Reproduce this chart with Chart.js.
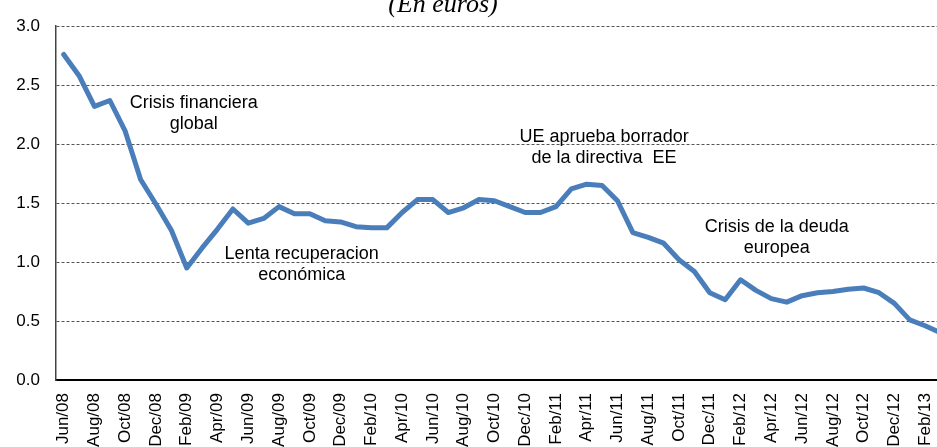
<!DOCTYPE html>
<html>
<head>
<meta charset="utf-8">
<script src="https://cdn.jsdelivr.net/npm/chart.js@4.4.1/dist/chart.umd.min.js"></script>
<style>
  body { margin: 0; background: #fff; }
  #wrap { position: relative; width: 937px; height: 447px; overflow: hidden; }
  #priceChart { position: absolute; left: 0; top: 0; }
</style>
</head>
<body>
<div id="wrap">
  <canvas id="priceChart" width="974" height="480"></canvas>
</div>
<script>
// monthly categories, Jun/08 .. Mar/13
const months = [
  'Jun/08', 'Jul/08', 'Aug/08', 'Sep/08', 'Oct/08', 'Nov/08', 'Dec/08',
  'Jan/09', 'Feb/09', 'Mar/09', 'Apr/09', 'May/09', 'Jun/09', 'Jul/09', 'Aug/09', 'Sep/09', 'Oct/09', 'Nov/09', 'Dec/09',
  'Jan/10', 'Feb/10', 'Mar/10', 'Apr/10', 'May/10', 'Jun/10', 'Jul/10', 'Aug/10', 'Sep/10', 'Oct/10', 'Nov/10', 'Dec/10',
  'Jan/11', 'Feb/11', 'Mar/11', 'Apr/11', 'May/11', 'Jun/11', 'Jul/11', 'Aug/11', 'Sep/11', 'Oct/11', 'Nov/11', 'Dec/11',
  'Jan/12', 'Feb/12', 'Mar/12', 'Apr/12', 'May/12', 'Jun/12', 'Jul/12', 'Aug/12', 'Sep/12', 'Oct/12', 'Nov/12', 'Dec/12',
  'Jan/13', 'Feb/13', 'Mar/13'
];

// price in euros
const prices = [
  2.76, 2.58, 2.32, 2.37, 2.11, 1.70, 1.49,
  1.27, 0.95, 1.12, 1.28, 1.45, 1.33, 1.37, 1.47, 1.41, 1.41, 1.35, 1.34,
  1.30, 1.29, 1.29, 1.42, 1.53, 1.53, 1.42, 1.46, 1.53, 1.52, 1.47, 1.42,
  1.42, 1.47, 1.62, 1.66, 1.65, 1.52, 1.25, 1.21, 1.16, 1.02, 0.92, 0.74,
  0.68, 0.85, 0.76, 0.69, 0.66, 0.715, 0.74, 0.75, 0.77, 0.78, 0.74, 0.65,
  0.51, 0.46, 0.40
];

const yTicks = [0, 0.5, 1.0, 1.5, 2.0, 2.5, 3.0];

const subtitle = '(En euros)';

const notes = [
  ['Crisis financiera', 'global'],
  ['Lenta recuperacion', 'económica'],
  ['UE aprueba borrador', 'de la directiva  EE'],
  ['Crisis de la deuda', 'europea']
];

// where each note sits: category index (center) and value (first baseline)
const noteAnchors = [
  { i: 8.46, v: 2.304 },
  { i: 15.47, v: 1.027 },
  { i: 35.13, v: 2.02 },
  { i: 46.35, v: 1.252 }
];

const sansFont = 'Liberation Sans, Arial, sans-serif';

const notesPlugin = {
  id: 'notes',
  afterDraw(chart) {
    const ctx = chart.ctx;
    const xs = chart.scales.x;
    const ys = chart.scales.y;
    ctx.save();
    ctx.fillStyle = '#000';
    ctx.textAlign = 'center';
    ctx.textBaseline = 'alphabetic';
    ctx.font = '18px ' + sansFont;
    notes.forEach(function(lines, k) {
      const cx = xs.getPixelForValue(noteAnchors[k].i);
      const by = ys.getPixelForValue(noteAnchors[k].v);
      lines.forEach(function(txt, j) {
        ctx.fillText(txt, cx, by + j * 21);
      });
    });
    // subtitle, partly cut off at the top like the source
    ctx.font = 'italic 26px Liberation Serif, Times New Roman, serif';
    ctx.fillText(subtitle, 443, 11.5);
    ctx.restore();
  }
};

const config = {
  type: 'line',
  data: {
    labels: months,
    datasets: [{
      label: 'Precio',
      data: prices,
      borderColor: '#4a7ebb',
      backgroundColor: '#4a7ebb',
      borderWidth: 5,
      pointRadius: 0,
      tension: 0,
      borderJoinStyle: 'round',
      borderCapStyle: 'round',
      fill: false
    }]
  },
  options: {
    responsive: false,
    animation: false,
    layout: { padding: { top: 21, right: 10, bottom: 0, left: 0 } },
    plugins: {
      legend: { display: false },
      tooltip: { enabled: false },
      title: { display: false }
    },
    scales: {
      x: {
        offset: true,
        grid: { display: false, drawTicks: false },
        border: { display: true, color: '#000', width: 2 },
        ticks: {
          autoSkip: false,
          maxRotation: 90,
          minRotation: 90,
          padding: 13,
          color: '#000',
          font: { family: sansFont, size: 17 },
          callback: function(value, index) {
            return index % 2 === 0 ? months[index] : '';
          }
        },
        afterFit: function(scale) { scale.height = 100; }
      },
      y: {
        min: 0,
        max: 3,
        afterBuildTicks: function(scale) {
          scale.ticks = yTicks.map(function(v) { return { value: v }; });
        },
        grid: { color: '#555', lineWidth: 1, drawTicks: false },
        border: { display: true, color: '#444', width: 1.5, dash: [3, 2] },
        ticks: {
          padding: 16,
          color: '#000',
          font: { family: sansFont, size: 17 },
          callback: function(value) { return Number(value).toFixed(1); }
        },
        afterFit: function(scale) { scale.width = 56; }
      }
    }
  },
  plugins: [notesPlugin]
};

document.addEventListener('DOMContentLoaded', function() {
  const ctx = document.getElementById('priceChart').getContext('2d');
  new Chart(ctx, config);
});
</script>
</body>
</html>
